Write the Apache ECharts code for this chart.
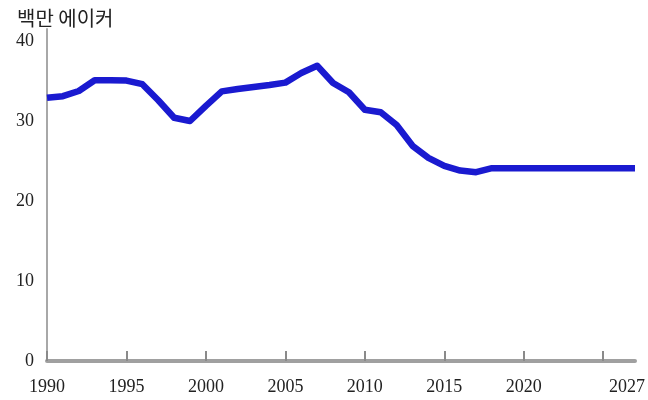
<!DOCTYPE html>
<html>
<head>
<meta charset="utf-8">
<script src="https://cdn.jsdelivr.net/npm/echarts@6/dist/echarts.min.js"></script>
<style>html,body{margin:0;padding:0;background:#fff}#c{width:648px;height:400px}</style>
</head>
<body>
<div id="c"></div>
<script>
var years = [1990,1991,1992,1993,1994,1995,1996,1997,1998,1999,2000,2001,2002,2003,2004,2005,2006,2007,2008,2009,2010,2011,2012,2013,2014,2015,2016,2017,2018,2019,2020,2021,2022,2023,2024,2025,2026,2027];
var acres = [32.9,33.1,33.75,35.1,35.1,35.05,34.6,32.6,30.4,30.0,31.9,33.7,34.0,34.25,34.5,34.8,36.0,36.9,34.75,33.6,31.4,31.1,29.5,26.9,25.4,24.4,23.8,23.6,24.1,24.1,24.1,24.1,24.1,24.1,24.1,24.1,24.1,24.1];
var xTickValues = [1990,1995,2000,2005,2010,2015,2020,2025];
var xLabelValues = [1990,1995,2000,2005,2010,2015,2020,2027];
var yLabelValues = [0,10,20,30,40];
var unitTitle = '백만 에이커';

var chart = echarts.init(document.getElementById('c'), null, {renderer:'canvas'});
var serif = '"Liberation Serif","DejaVu Serif",serif';
chart.setOption({
  animation:false,
  backgroundColor:'#fff',
  title:{text:unitTitle,left:12,top:3,textStyle:{fontFamily:'"Noto Sans CJK KR",sans-serif',fontSize:20,fontWeight:'normal',color:'#222'}},
  grid:{left:47,right:13,top:29,bottom:39,containLabel:false},
  xAxis:{
    type:'value',min:1990,max:2027,
    axisLine:{show:true,lineStyle:{color:'#a0a0a0',width:4}},
    axisTick:{show:true,inside:true,length:10,customValues:xTickValues,lineStyle:{color:'#8a8a8a',width:2}},
    axisLabel:{customValues:xLabelValues,margin:17,fontFamily:serif,fontSize:18,color:'#222',
      formatter:function(v){return v===2027?'{r|2027}':String(v);},
      rich:{r:{fontFamily:serif,fontSize:18,color:'#222',padding:[0,16,0,0]}}},
    splitLine:{show:false}
  },
  yAxis:{
    type:'value',min:0,max:41.5,
    axisLine:{show:true,lineStyle:{color:'#a8a8a8',width:2}},
    axisTick:{show:false},
    axisLabel:{customValues:yLabelValues,margin:13,fontFamily:serif,fontSize:18,color:'#222'},
    splitLine:{show:false}
  },
  series:[{
    type:'line',
    data:years.map(function(y,i){return [y,acres[i]];}),
    showSymbol:false,
    lineStyle:{color:'#1a1ad0',width:6.5,join:'round',cap:'butt'},
    itemStyle:{color:'#1a1ad0'}
  }]
});
</script>
</body>
</html>
